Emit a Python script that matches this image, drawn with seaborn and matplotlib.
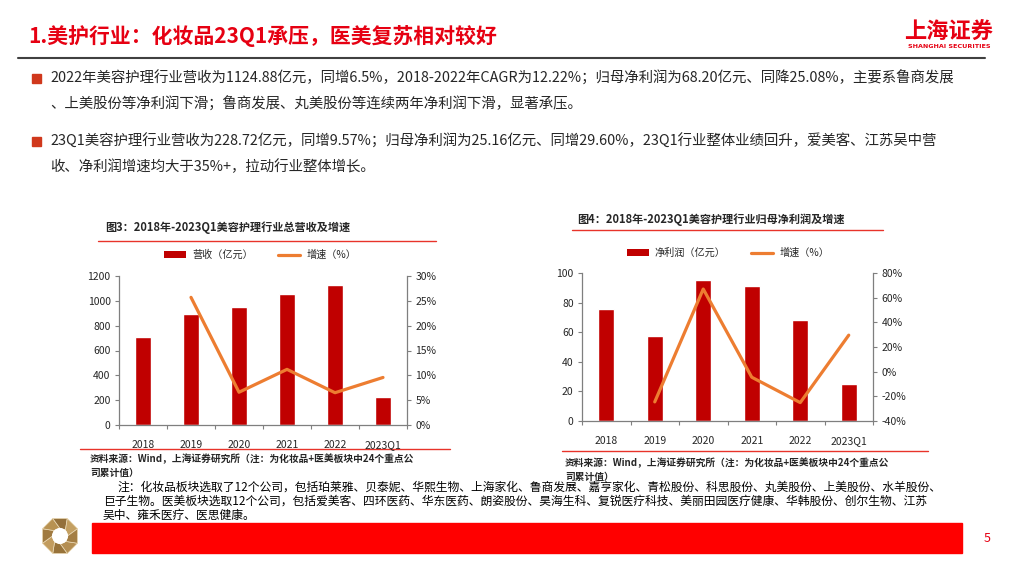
import numpy as np
import pandas as pd
import seaborn as sns
import matplotlib.pyplot as plt
from matplotlib.patches import Rectangle, Polygon, Circle, Patch
from matplotlib.lines import Line2D
from matplotlib.ticker import FuncFormatter, FixedLocator

# chart data
years = ['2018', '2019', '2020', '2021', '2022', '2023Q1']
revenue = [709, 891, 950, 1056, 1124.88, 228.72]          # 营收（亿元）
revenue_growth = [25.7, 6.6, 11.2, 6.5, 9.57]              # 2019 onwards, %
profit = [75.6, 57.1, 95.3, 91.03, 68.20, 25.16]           # 净利润（亿元）
profit_growth = [-24.5, 67.0, -4.5, -25.08, 29.60]         # 2019 onwards, %

BAR = '#C00000'
LINE = '#ED7D31'
RED = '#E60012'
TXT = '#262626'

sns.set_theme(style='white')
plt.rcParams['font.family'] = ['Noto Sans CJK SC', 'DejaVu Sans']
plt.rcParams['axes.unicode_minus'] = False

fig = plt.figure(figsize=(10.24, 5.76), dpi=100)

# background layer in pixel coordinates (y from top)
bg = fig.add_axes([0, 0, 1, 1], zorder=0)
bg.set_xlim(0, 1024)
bg.set_ylim(576, 0)
bg.axis('off')


def px_rect(l, t, r, b):
    return [l / 1024, 1 - b / 576, (r - l) / 1024, (b - t) / 576]


# header
bg.text(28, 36, '1.美护行业：化妆品23Q1承压，医美复苏相对较好', color=RED,
        fontsize=15, fontweight='bold', va='center', ha='left')
bg.text(949, 32, '上海证券', color=RED, fontsize=16, fontweight='bold',
        va='center', ha='center')
bg.text(949, 46, 'SHANGHAI SECURITIES', color=RED, fontsize=4.6,
        fontweight='bold', va='center', ha='center', family='DejaVu Sans')
bg.plot([18, 985], [58, 58], color='#404040', lw=1.5)

# bullets
body = [
    (78, '2022年美容护理行业营收为1124.88亿元，同增6.5%，2018-2022年CAGR为12.22%；归母净利润为68.20亿元、同降25.08%，主要系鲁商发展'),
    (104, '、上美股份等净利润下滑；鲁商发展、丸美股份等连续两年净利润下滑，显著承压。'),
    (141, '23Q1美容护理行业营收为228.72亿元，同增9.57%；归母净利润为25.16亿元、同增29.60%，23Q1行业整体业绩回升，爱美客、江苏吴中营'),
    (167, '收、净利润增速均大于35%+，拉动行业整体增长。'),
]
for y, s in body:
    bg.text(50, y, s, color=TXT, fontsize=10.4, va='center', ha='left')
for y in (78, 141):
    bg.add_patch(Rectangle((32, y - 4.5), 9, 9, color='#D0381C'))

# chart frames: titles, red rules, sources
bg.text(105, 227, '图3：2018年-2023Q1美容护理行业总营收及增速', color=TXT,
        fontsize=8.0, fontweight='bold', va='center', ha='left')
bg.plot([98, 436], [241, 241], color='#E8332A', lw=1)
bg.plot([80, 450], [449, 449], color='#E8332A', lw=1)
bg.text(577, 220, '图4：2018年-2023Q1美容护理行业归母净利润及增速', color=TXT,
        fontsize=8.0, fontweight='bold', va='center', ha='left')
bg.plot([572, 883], [230, 230], color='#E8332A', lw=1)
bg.plot([562, 928], [451, 451], color='#E8332A', lw=1)

src1 = '资料来源：Wind，上海证券研究所（注：为化妆品+医美板块中24个重点公'
src2 = '司累计值）'
for x0, y0 in ((90, 459), (565, 463)):
    bg.text(x0, y0, src1, color=TXT, fontsize=7, fontweight='bold', va='center')
    bg.text(x0, y0 + 14, src2, color=TXT, fontsize=7, fontweight='bold', va='center')

notes = [
    (117, 487, '注：化妆品板块选取了12个公司，包括珀莱雅、贝泰妮、华熙生物、上海家化、鲁商发展、嘉亨家化、青松股份、科思股份、丸美股份、上美股份、水羊股份、'),
    (103, 501.5, '巨子生物。医美板块选取12个公司，包括爱美客、四环医药、华东医药、朗姿股份、昊海生科、复锐医疗科技、美丽田园医疗健康、华韩股份、创尔生物、江苏'),
    (103, 515.5, '吴中、雍禾医疗、医思健康。'),
]
for x0, y0, s in notes:
    bg.text(x0, y0, s, color='black', fontsize=8.5, va='center')

# footer
bg.add_patch(Rectangle((92, 523), 870, 30, color='#FF0000'))
bg.text(987, 539, '5', color=RED, fontsize=9, va='center', ha='center')

# octagon logo
cx, cy, R, r = 60, 536, 19, 8
ang = np.deg2rad(22.5 + 45 * np.arange(9))
shades = ['#B48E52', '#98733A', '#C29C5E', '#A07A40', '#B89252', '#94703A', '#C4A062', '#A47E44']
for k in range(8):
    pts = [(cx + R * np.cos(ang[k]), cy + R * np.sin(ang[k])),
           (cx + R * np.cos(ang[k + 1]), cy + R * np.sin(ang[k + 1])),
           (cx + r * np.cos(ang[k + 1] + 0.35), cy + r * np.sin(ang[k + 1] + 0.35)),
           (cx + r * np.cos(ang[k] + 0.35), cy + r * np.sin(ang[k] + 0.35))]
    bg.add_patch(Polygon(pts, closed=True, facecolor=shades[k], edgecolor='#EBD9B5', lw=0.5))
bg.add_patch(Circle((cx, cy), r, facecolor='white', edgecolor='none'))


def combo(rect, bars, growth, ylim, yticks, glim, gticks, bar_label, legend_xy):
    ax = fig.add_axes(px_rect(*rect), zorder=1)
    df = pd.DataFrame({'year': years, 'value': bars})
    sns.barplot(data=df, x='year', y='value', color=BAR, width=0.34,
                saturation=1, ax=ax)
    ax2 = ax.twinx()
    gdf = pd.DataFrame({'pos': np.arange(1, len(years)), 'growth': growth})
    sns.lineplot(data=gdf, x='pos', y='growth', color=LINE, lw=2.3, ax=ax2)
    ax.set_xlim(-0.5, len(years) - 0.5)
    ax.set_ylim(*ylim)
    ax.set_yticks(yticks)
    ax2.set_ylim(*glim)
    ax2.set_yticks(gticks)
    ax2.yaxis.set_major_formatter(FuncFormatter(lambda v, p: f'{v:.0f}%'))
    for a in (ax, ax2):
        a.set_xlabel('')
        a.set_ylabel('')
        for sp in a.spines.values():
            sp.set_color('#7F7F7F')
            sp.set_linewidth(0.9)
        a.spines['top'].set_visible(False)
    ax.spines['right'].set_visible(False)
    ax2.spines['left'].set_visible(False)
    ax2.spines['bottom'].set_visible(False)
    ax.tick_params(axis='y', left=True, length=3, width=0.8, color='#7F7F7F',
                   labelsize=7.5, labelcolor=TXT, pad=3)
    ax2.tick_params(axis='y', right=True, length=3, width=0.8, color='#7F7F7F',
                    labelsize=7.5, labelcolor=TXT, pad=3)
    ax.tick_params(axis='x', bottom=False, labelsize=7.5, labelcolor=TXT, pad=5)
    ax.xaxis.set_minor_locator(FixedLocator(np.arange(-0.5, len(years), 1)))
    ax.tick_params(axis='x', which='minor', bottom=True, length=3, width=0.8,
                   color='#7F7F7F')
    handles = [Patch(facecolor=BAR, edgecolor='none'),
               Line2D([0], [0], color=LINE, lw=2.3)]
    fig.legend(handles, [bar_label, '增速（%）'], loc='center',
               bbox_to_anchor=(legend_xy[0] / 1024, 1 - legend_xy[1] / 576),
               ncol=2, frameon=False, fontsize=7.3, handlelength=2.2,
               handleheight=0.6, columnspacing=2.5, handletextpad=0.6,
               labelcolor=TXT)
    return ax, ax2


combo((119, 276, 407, 425), revenue, revenue_growth,
      (0, 1200), range(0, 1201, 200), (0, 30), range(0, 31, 5),
      '营收（亿元）', (260, 255))
combo((582, 273, 873, 421), profit, profit_growth,
      (0, 100), range(0, 101, 20), (-40, 80), range(-40, 81, 20),
      '净利润（亿元）', (728, 253))

fig.savefig('out.png', dpi=100)
